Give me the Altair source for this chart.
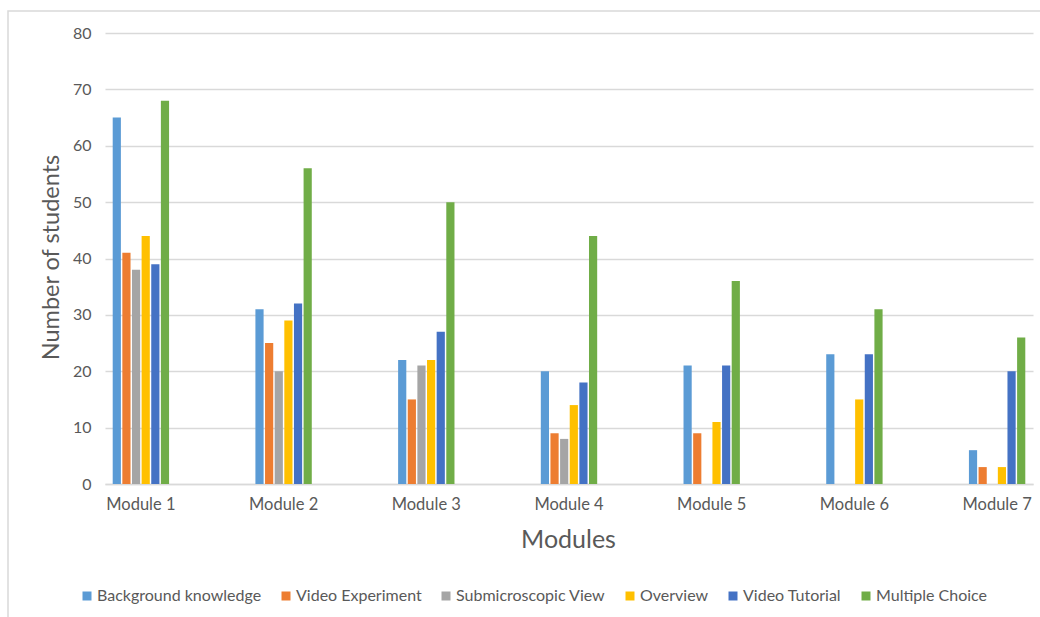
import altair as alt
import pandas as pd

modules = ["Module 1", "Module 2", "Module 3", "Module 4", "Module 5", "Module 6", "Module 7"]
series = ["Background knowledge", "Video Experiment", "Submicroscopic View",
          "Overview", "Video Tutorial", "Multiple Choice"]
colors = ["#5B9BD5", "#ED7D31", "#A5A5A5", "#FFC000", "#4472C4", "#70AD47"]

background_knowledge = [65, 31, 22, 20, 21, 23, 6]
video_experiment = [41, 25, 15, 9, 9, None, 3]
submicroscopic_view = [38, 20, 21, 8, None, None, None]
overview = [44, 29, 22, 14, 11, 15, 3]
video_tutorial = [39, 32, 27, 18, 21, 23, 20]
multiple_choice = [68, 56, 50, 44, 36, 31, 26]

y_ticks = [0, 10, 20, 30, 40, 50, 60, 70, 80]

values = [background_knowledge, video_experiment, submicroscopic_view,
          overview, video_tutorial, multiple_choice]
rows = []
for s, vals in zip(series, values):
    for m, v in zip(modules, vals):
        if v is not None:
            rows.append({"Module": m, "Series": s, "Value": v})
df = pd.DataFrame(rows)

FONT = "Lato"
GREY = "#595959"

bars = alt.Chart(df).mark_bar().encode(
    x=alt.X("Module:N", sort=modules,
            scale=alt.Scale(domain=modules, paddingInner=0.605, paddingOuter=0.054),
            axis=alt.Axis(title="Modules", labelAngle=0, ticks=False,
                          domainColor="#D9D9D9", domainWidth=1.5,
                          labelPadding=12, labelFontSize=16.5, labelColor=GREY,
                          titleFontSize=25, titleFontWeight="normal", titleColor=GREY,
                          titleX=463, titleY=63, titleBaseline="alphabetic",
                          titleAlign="center")),
    xOffset=alt.XOffset("Series:N", sort=series,
                        scale=alt.Scale(domain=series, paddingInner=0.15)),
    y=alt.Y("Value:Q",
            scale=alt.Scale(domain=[0, 80], nice=False),
            axis=alt.Axis(title="Number of students", values=y_ticks,
                          domain=False, ticks=False, grid=True,
                          gridColor="#D9D9D9", gridWidth=1.5,
                          labelPadding=14, labelFontSize=16, labelColor=GREY,
                          titleFontSize=23.5, titleFontWeight="normal", titleColor=GREY,
                          titleAngle=270, titleX=-47, titleY=224,
                          titleAlign="center", titleBaseline="alphabetic")),
    color=alt.Color("Series:N", sort=series,
                    scale=alt.Scale(domain=series, range=colors),
                    legend=alt.Legend(title=None, orient="none", direction="horizontal",
                                      legendX=-26, legendY=555, padding=0,
                                      symbolType="square", symbolSize=81,
                                      symbolStrokeWidth=0, labelFontSize=16,
                                      labelColor=GREY, labelOffset=2,
                                      labelLimit=400, columnPadding=16)),
)

frame = alt.Chart(alt.Data(values=[{}])).mark_rect(
    filled=False, stroke="#D9D9D9", strokeWidth=1.5
).encode(
    x=alt.value(-97), x2=alt.value(1100), y=alt.value(-22), y2=alt.value(700)
)

chart = alt.layer(frame, bars).properties(
    width=928, height=451,
    autosize=alt.AutoSizeParams(type="none"),
    padding={"left": 105, "top": 33, "right": 7, "bottom": 133},
    background="white",
).configure(font=FONT).configure_view(stroke=None)

chart.save("out.html", embed_options={"renderer": "svg", "actions": False})
